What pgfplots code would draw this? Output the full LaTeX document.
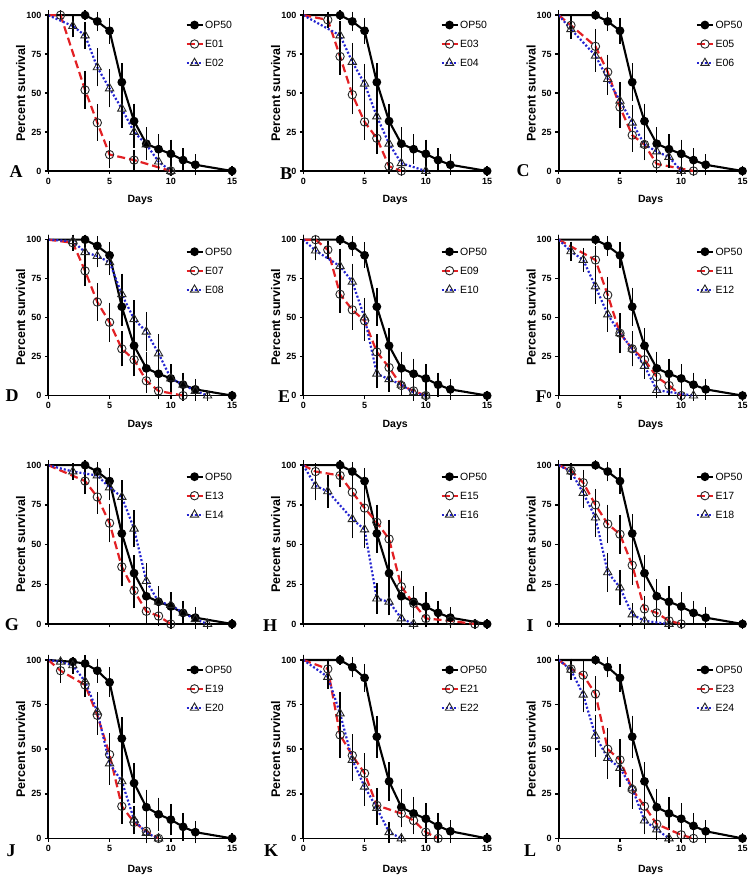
\documentclass[border=0pt]{standalone}
\usepackage{pgfplots}
\pgfplotsset{compat=1.18}
\usepackage{pgfplotstable}
\usepackage{fontspec}
\setmainfont{Liberation Sans}
\newfontfamily\letterfont{Liberation Serif}

\definecolor{pred}{RGB}{226,32,36}
\definecolor{pblue}{RGB}{36,36,208}

% control (same in every panel except J)
\pgfplotstableread{
x y e
0 100 0
3 100 0
4 96 3
5 90 5
6 57 9
7 32 8
8 17.5 7.5
9 14 6.5
10 11 6
11 7 4.5
12 4 3.5
15 0 0
}\tOP
\pgfplotstableread{
x y e
0 100 0
2 99 0
3 98 2
4 94 4
5 87.5 5.5
6 56 9
7 31 8.5
8 17.5 7
9 13.5 6.5
10 10.5 6
11 6.5 5
12 3.5 3.5
15 0 0
}\tOPJ

\pgfplotstableread{
x y e
0 100 0
1 100 0
3 52 9
4 31 8.5
5 10.5 5.5
7 7 3.5
10 0 0
}\tEa
\pgfplotstableread{
x y e
0 100 0
2 93 4
3 87 5.5
4 66.5 9
5 53 9
6 40 9
7 25 7
8 17 6.5
9 6 3.5
10 0 0
}\tEb
\pgfplotstableread{
x y e
0 100 0
2 97 2
3 73.5 8.5
4 49 9.5
5 31.5 8.5
6 21 7
7 3 2
8 0 0
}\tEc
\pgfplotstableread{
x y e
0 100 0
3 87 6
4 70 9
5 56 9.5
6 35 9.5
7 17.5 7
8 5 3
10 0 0
}\tEd
\pgfplotstableread{
x y e
0 100 0
1 93.5 3
3 80 8
4 63.5 8
5 41 10
6 23 7.5
7 17 6
8 4.5 2.5
11 0 0
}\tEe
\pgfplotstableread{
x y e
0 100 0
1 91 3
3 74 7
4 59 7
5 45 9
6 31 8
7 17 7
8 12.5 5
9 9 4
10 0 0
}\tEf
\pgfplotstableread{
x y e
0 100 0
2 98 2
3 80 6.5
4 60 9
5 47 9.5
6 30 8
7 23 7.5
8 9.5 4.5
9 3 2
11 0 0
}\tEg
\pgfplotstableread{
x y e
0 100 0
2 99 1
3 92 3
4 89.5 4
5 85.5 5
6 65 10
7 49 9
8 41 9.5
9 27 9
10 11 5
11 7 4
12 3 3
13 0 0
}\tEh
\pgfplotstableread{
x y e
0 100 0
1 100 0
2 93.5 2.5
3 65 8.5
4 55 9.5
5 48 9.5
6 28 8
7 18 6
8 6.5 3
9 3 2
10 0 0
}\tEi
\pgfplotstableread{
x y e
0 100 0
1 93 3
3 83 8
4 73 8.5
5 50 9.5
6 14 6
7 10.5 5
8 7 4
9 2 2
10 0 0
}\tEj
\pgfplotstableread{
x y e
0 100 0
3 87 6
4 64.5 8.5
5 40 9.5
6 30 8
7 23 7
8 12 5
9 6.5 3
10 0 0
}\tEk
\pgfplotstableread{
x y e
0 100 0
1 92.5 3
2 87 4.5
3 70 8
4 52 8
5 40 8
6 30 8
7 19 5
8 3.5 2
11 0 0
}\tEl
\pgfplotstableread{
x y e
0 100 0
3 90 5
4 80 7.5
5 63.5 9
6 36 9
7 21 8
8 8 5
9 5 3
10 0 0
}\tEm
\pgfplotstableread{
x y e
0 100 0
2 96 2
4 93.5 3
5 86 5
6 80 7.5
7 60 8.5
8 27 8
9 14 6
10 12 5
11 7 4
12 3 3
13 0 0
}\tEn
\pgfplotstableread{
x y e
0 100 0
1 96 2
3 93.5 4
4 83 7
5 73 7.5
6 64 8
7 53.5 9
8 23.5 7
9 13 6
10 3.5 2
12 2 0
14 0 0
}\tEo
\pgfplotstableread{
x y e
0 100 0
1 87 6
2 83.5 7
4 66 9
5 59.5 8.5
6 16 6.5
7 14 5.5
8 3.5 2
9 0 0
}\tEp
\pgfplotstableread{
x y e
0 100 0
1 96.5 2
2 89 5
3 75 7
4 63 9
5 56.5 9
6 37 9
7 9.5 5
8 7 3
9 2 2
10 0 0
}\tEq
\pgfplotstableread{
x y e
0 100 0
1 96 2
2 82.5 6
3 67 9
4 32.5 9
5 23 8
6 6 4
7 2 2
9 0 0
}\tEr
\pgfplotstableread{
x y e
0 100 0
1 94 4
3 86 4
4 69 8
5 47 9
6 18 7
7 9 4
8 4 3
9 0 0
}\tEs
\pgfplotstableread{
x y e
0 100 0
1 99 0
2 97 2
3 88 4
4 71 8
5 42 9
6 32 9
7 10.5 5
8 3 3
9 0 0
}\tEt
\pgfplotstableread{
x y e
0 100 0
2 95 3
3 58 10
4 46.5 9
5 36.5 8.5
6 18.5 7
8 14 5
9 10 5
10 3.5 3
11 0 0
}\tEu
\pgfplotstableread{
x y e
0 100 0
2 90.5 4
3 70 9
4 44 9
5 29 8
6 17 6.5
7 3.5 3
8 0 0
}\tEv
\pgfplotstableread{
x y e
0 100 0
1 95 3
2 91.5 5
3 81 7
4 50 9
5 44 9
6 27.5 8
7 18 6
8 8 4
10 2 2
11 0 0
}\tEw
\pgfplotstableread{
x y e
0 100 0
1 94.5 3
2 80.5 7
3 57.5 9
4 45 9
5 39.5 8
6 28 8
7 10 5
8 5 3
9 0 0
}\tEx

\pgfplotsset{
  panel/.style={
    scale only axis, width=183.8pt, anchor=south west,
    xmin=0, xmax=15, ymin=0, ymax=100,
    axis lines=left, axis line style={-, line width=1.8pt},
    xtick={0,5,10,15}, ytick={0,25,50,75,100},
    tick align=outside, major tick length=3.5pt,
    tick style={black, line width=1.5pt},
    /pgf/number format/assume math mode=true,
    ticklabel style={font=\fontsize{9}{10}\selectfont\bfseries},
    xlabel={Days}, ylabel={Percent survival},
    xlabel style={font=\fontsize{10.5}{12}\selectfont\bfseries, anchor=center},
    ylabel style={font=\fontsize{12.5}{14}\selectfont\bfseries, anchor=center,
      at={(axis description cs:-0.15,0.5)}},
    clip=false,
    legend cell align=left,
    legend style={draw=none, fill=none, anchor=north west, inner sep=0pt,
      row sep=7.5pt, font=\fontsize{10.5}{12}\selectfont,
      nodes={inner sep=1.5pt, text height=8pt, text depth=0.5pt}},
    legend image code/.code={\draw[##1, mark indices={2}]
      plot coordinates {(0pt,0pt) (8pt,0pt) (16pt,0pt)};},
  },
  r1/.style={panel, height=155.8pt,
    xlabel style={at={(axis description cs:0.5,-0.186)}},
    legend style={at={(rel axis cs:0.745,0.975)}}},
  r2/.style={panel, height=155.9pt,
    xlabel style={at={(axis description cs:0.5,-0.189)}},
    legend style={at={(rel axis cs:0.745,0.961)}}},
  r3/.style={panel, height=158.8pt, xticklabels={}, xlabel={},
    legend style={at={(rel axis cs:0.745,0.965)}}},
  r4/.style={panel, height=178.4pt,
    xlabel style={at={(axis description cs:0.5,-0.177)}},
    legend style={at={(rel axis cs:0.745,0.978), row sep=10pt}}},
  bars/.style={error bars/y dir=both, error bars/y explicit,
    error bars/error bar style={black, line width=1.4pt, solid},
    error bars/error mark options={black, line width=1.4pt, mark size=5pt, solid}},
  op/.style={black, line width=2.1pt, mark=*, mark size=3.3pt,
    mark options={solid, fill=black}, mark indices={2,...,30}, bars},
  odd/.style={pred, line width=2.2pt, dash pattern=on 8pt off 4pt,
    mark=o, mark size=4.2pt, mark options={solid, draw=black!85, fill=white, line width=0.9pt},
    mark indices={2,...,30}, bars},
  even/.style={pblue, line width=2.2pt, dash pattern=on 2pt off 2pt,
    mark=triangle, mark size=4.8pt, mark options={solid, draw=black!85, fill=white, line width=0.9pt},
    mark indices={2,...,30}, bars},
}

\newcommand\panelletter[2]{\node[font=\fontsize{18}{18}\selectfont\letterfont\bfseries] at #1 {#2};}

\begin{document}
\begin{tikzpicture}
\path[use as bounding box] (0pt,0pt) rectangle (750pt,883pt);

% row 1
\begin{axis}[r1, at={(48.3pt,712pt)}]
\addplot[op] table[x=x,y=y,y error=e] {\tOP}; \addlegendentry{OP50}
\addplot[odd] table[x=x,y=y,y error=e] {\tEa}; \addlegendentry{E01}
\addplot[even] table[x=x,y=y,y error=e] {\tEb}; \addlegendentry{E02}
\end{axis}
\begin{axis}[r1, at={(303.3pt,712pt)}]
\addplot[op] table[x=x,y=y,y error=e] {\tOP}; \addlegendentry{OP50}
\addplot[odd] table[x=x,y=y,y error=e] {\tEc}; \addlegendentry{E03}
\addplot[even] table[x=x,y=y,y error=e] {\tEd}; \addlegendentry{E04}
\end{axis}
\begin{axis}[r1, at={(558.7pt,712pt)}]
\addplot[op] table[x=x,y=y,y error=e] {\tOP}; \addlegendentry{OP50}
\addplot[odd] table[x=x,y=y,y error=e] {\tEe}; \addlegendentry{E05}
\addplot[even] table[x=x,y=y,y error=e] {\tEf}; \addlegendentry{E06}
\end{axis}

% row 2
\begin{axis}[r2, at={(48.3pt,487.4pt)}]
\addplot[op] table[x=x,y=y,y error=e] {\tOP}; \addlegendentry{OP50}
\addplot[odd] table[x=x,y=y,y error=e] {\tEg}; \addlegendentry{E07}
\addplot[even] table[x=x,y=y,y error=e] {\tEh}; \addlegendentry{E08}
\end{axis}
\begin{axis}[r2, at={(303.3pt,487.4pt)}]
\addplot[op] table[x=x,y=y,y error=e] {\tOP}; \addlegendentry{OP50}
\addplot[odd] table[x=x,y=y,y error=e] {\tEi}; \addlegendentry{E09}
\addplot[even] table[x=x,y=y,y error=e] {\tEj}; \addlegendentry{E10}
\end{axis}
\begin{axis}[r2, at={(558.7pt,487.4pt)}]
\addplot[op] table[x=x,y=y,y error=e] {\tOP}; \addlegendentry{OP50}
\addplot[odd] table[x=x,y=y,y error=e] {\tEk}; \addlegendentry{E11}
\addplot[even] table[x=x,y=y,y error=e] {\tEl}; \addlegendentry{E12}
\end{axis}

% row 3
\begin{axis}[r3, at={(48.3pt,259pt)}]
\addplot[op] table[x=x,y=y,y error=e] {\tOP}; \addlegendentry{OP50}
\addplot[odd] table[x=x,y=y,y error=e] {\tEm}; \addlegendentry{E13}
\addplot[even] table[x=x,y=y,y error=e] {\tEn}; \addlegendentry{E14}
\end{axis}
\begin{axis}[r3, at={(303.3pt,259pt)}]
\addplot[op] table[x=x,y=y,y error=e] {\tOP}; \addlegendentry{OP50}
\addplot[odd] table[x=x,y=y,y error=e] {\tEo}; \addlegendentry{E15}
\addplot[even] table[x=x,y=y,y error=e] {\tEp}; \addlegendentry{E16}
\end{axis}
\begin{axis}[r3, at={(558.7pt,259pt)}]
\addplot[op] table[x=x,y=y,y error=e] {\tOP}; \addlegendentry{OP50}
\addplot[odd] table[x=x,y=y,y error=e] {\tEq}; \addlegendentry{E17}
\addplot[even] table[x=x,y=y,y error=e] {\tEr}; \addlegendentry{E18}
\end{axis}

% row 4
\begin{axis}[r4, at={(48.3pt,44.6pt)}]
\addplot[op] table[x=x,y=y,y error=e] {\tOPJ}; \addlegendentry{OP50}
\addplot[odd] table[x=x,y=y,y error=e] {\tEs}; \addlegendentry{E19}
\addplot[even] table[x=x,y=y,y error=e] {\tEt}; \addlegendentry{E20}
\end{axis}
\begin{axis}[r4, at={(303.3pt,44.6pt)}]
\addplot[op] table[x=x,y=y,y error=e] {\tOP}; \addlegendentry{OP50}
\addplot[odd] table[x=x,y=y,y error=e] {\tEu}; \addlegendentry{E21}
\addplot[even] table[x=x,y=y,y error=e] {\tEv}; \addlegendentry{E22}
\end{axis}
\begin{axis}[r4, at={(558.7pt,44.6pt)}]
\addplot[op] table[x=x,y=y,y error=e] {\tOP}; \addlegendentry{OP50}
\addplot[odd] table[x=x,y=y,y error=e] {\tEw}; \addlegendentry{E23}
\addplot[even] table[x=x,y=y,y error=e] {\tEx}; \addlegendentry{E24}
\end{axis}

\panelletter{(16pt,711pt)}{A}
\panelletter{(286pt,709pt)}{B}
\panelletter{(523pt,712pt)}{C}
\panelletter{(12pt,487pt)}{D}
\panelletter{(284pt,486pt)}{E}
\panelletter{(541pt,486pt)}{F}
\panelletter{(12pt,258pt)}{G}
\panelletter{(270pt,257pt)}{H}
\panelletter{(530pt,257pt)}{I}
\panelletter{(11pt,32pt)}{J}
\panelletter{(271pt,32pt)}{K}
\panelletter{(530pt,32pt)}{L}
\end{tikzpicture}
\end{document}
